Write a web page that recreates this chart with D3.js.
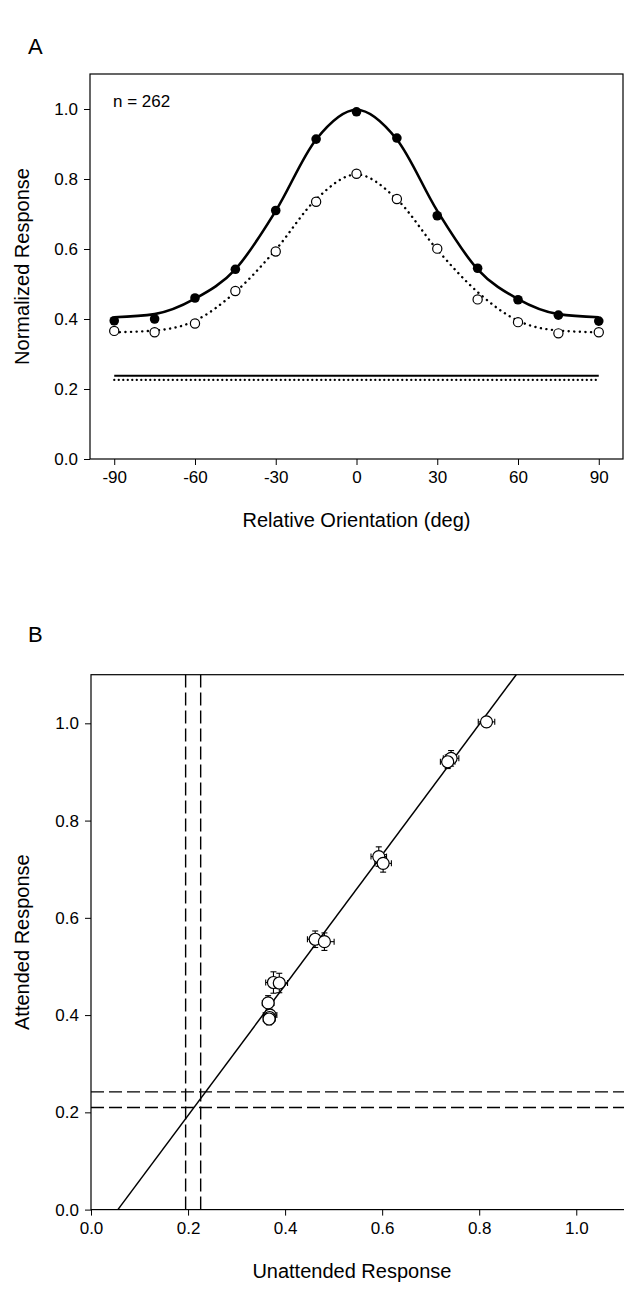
<!DOCTYPE html>
<html>
<head>
<meta charset="utf-8">
<script src="https://cdn.jsdelivr.net/npm/d3@7"></script>
<style>
  body { margin: 0; background: #fff; }
  svg { display: block; font-family: "Liberation Sans", Arial, sans-serif; }
</style>
</head>
<body>
<svg id="chart" width="624" height="1289"></svg>
<script>
// Panel A: tuning curves
const orientations = [-90, -75, -60, -45, -30, -15, 0, 15, 30, 45, 60, 75, 90];
const attended = [0.395, 0.400, 0.460, 0.542, 0.710, 0.914, 0.992, 0.917, 0.695, 0.545, 0.455, 0.411, 0.394];
const unattended = [0.366, 0.362, 0.387, 0.480, 0.593, 0.735, 0.815, 0.743, 0.601, 0.456, 0.391, 0.359, 0.362];
// fitted curves at the same orientations
const attendedFit = [0.405, 0.414, 0.458, 0.542, 0.709, 0.913, 0.998, 0.913, 0.709, 0.542, 0.457, 0.414, 0.405];
const unattendedFit = [0.362, 0.367, 0.395, 0.477, 0.598, 0.742, 0.813, 0.742, 0.598, 0.477, 0.395, 0.367, 0.362];
const baselines = [0.238, 0.226]; // attended (solid), unattended (dotted)
const xTicksA = [-90, -60, -30, 0, 30, 60, 90];
const yTicksA = [0, 0.2, 0.4, 0.6, 0.8, 1.0];

// Panel B: attended vs unattended
const unattendedB = [0.815, 0.742, 0.735, 0.593, 0.602, 0.462, 0.481, 0.376, 0.388, 0.365, 0.369, 0.368, 0.367];
const attendedB = [1.003, 0.928, 0.921, 0.726, 0.712, 0.556, 0.551, 0.467, 0.466, 0.425, 0.400, 0.395, 0.392];
const errUnattendedB = [0.017, 0.016, 0.015, 0.016, 0.017, 0.016, 0.020, 0.016, 0.017, 0.012, 0.014, 0.012, 0.012];
const errAttendedB = [0.010, 0.016, 0.014, 0.020, 0.018, 0.017, 0.018, 0.022, 0.020, 0.015, 0.012, 0.012, 0.012];
const fitSlope = 1.34;
const fitXIntercept = 0.0554;
const dashedX = [0.195, 0.226];
const dashedY = [0.210, 0.242];
const ticksB = [0, 0.2, 0.4, 0.6, 0.8, 1.0];

const svg = d3.select("#chart");
const fmt = d3.format(".1f");

function styleAxis(g) {
  g.select(".domain").remove();
  g.selectAll(".tick line").attr("stroke", "#000").attr("stroke-width", 1);
  g.selectAll(".tick text").attr("font-size", 17).attr("fill", "#000").attr("font-family", "Liberation Sans, Arial, sans-serif");
}

// ---------- Panel A ----------
const xA = d3.scaleLinear().domain([-99, 99]).range([90, 623]);
const yA = d3.scaleLinear().domain([0, 1.1]).range([459, 74]);

svg.append("text").text("A").attr("x", 28).attr("y", 54).attr("font-size", 22);

svg.append("rect")
  .attr("x", xA(-99)).attr("y", yA(1.1))
  .attr("width", xA(99) - xA(-99)).attr("height", yA(0) - yA(1.1))
  .attr("fill", "none").attr("stroke", "#000").attr("stroke-width", 1.2);

svg.append("g")
  .attr("transform", `translate(0, ${yA(0)})`)
  .call(d3.axisBottom(xA).tickValues(xTicksA).tickFormat((d) => String(d)).tickSize(6).tickPadding(6))
  .call(styleAxis);

svg.append("g")
  .attr("transform", `translate(${xA(-99)}, 0)`)
  .call(d3.axisLeft(yA).tickValues(yTicksA).tickFormat(fmt).tickSize(6).tickPadding(6))
  .call(styleAxis);

svg.append("text").text("n = 262").attr("x", 113).attr("y", 107).attr("font-size", 17);

svg.append("text")
  .text("Relative Orientation (deg)")
  .attr("x", xA(0)).attr("y", 527)
  .attr("text-anchor", "middle").attr("font-size", 20);

svg.append("text")
  .text("Normalized Response")
  .attr("transform", `translate(29, ${(yA(0) + yA(1.1)) / 2}) rotate(-90)`)
  .attr("text-anchor", "middle").attr("font-size", 20);

// baselines
svg.append("line")
  .attr("x1", xA(-90)).attr("x2", xA(90))
  .attr("y1", yA(baselines[0])).attr("y2", yA(baselines[0]))
  .attr("stroke", "#000").attr("stroke-width", 2);
svg.append("line")
  .attr("x1", xA(-90)).attr("x2", xA(90))
  .attr("y1", yA(baselines[1])).attr("y2", yA(baselines[1]))
  .attr("stroke", "#000").attr("stroke-width", 2.2)
  .attr("stroke-dasharray", "0.1 4.4").attr("stroke-linecap", "round");

const lineA = d3.line()
  .x((d, i) => xA(orientations[i]))
  .y((d) => yA(d))
  .curve(d3.curveMonotoneX);

svg.append("path")
  .attr("d", lineA(unattendedFit))
  .attr("fill", "none").attr("stroke", "#000").attr("stroke-width", 2.4)
  .attr("stroke-dasharray", "0.1 5.5").attr("stroke-linecap", "round");

svg.append("path")
  .attr("d", lineA(attendedFit))
  .attr("fill", "none").attr("stroke", "#000").attr("stroke-width", 2.6)
  .attr("stroke-linejoin", "round");

svg.append("g").selectAll("circle")
  .data(unattended)
  .join("circle")
  .attr("cx", (d, i) => xA(orientations[i]))
  .attr("cy", (d) => yA(d))
  .attr("r", 4.6)
  .attr("fill", "#fff").attr("stroke", "#000").attr("stroke-width", 1.2);

svg.append("g").selectAll("circle")
  .data(attended)
  .join("circle")
  .attr("cx", (d, i) => xA(orientations[i]))
  .attr("cy", (d) => yA(d))
  .attr("r", 4.8)
  .attr("fill", "#000");

// ---------- Panel B ----------
const xB = d3.scaleLinear().domain([0, 1.1]).range([91, 624.8]);
const yB = d3.scaleLinear().domain([0, 1.1]).range([1209.6, 674.7]);

svg.append("text").text("B").attr("x", 28).attr("y", 642).attr("font-size", 22);

svg.append("rect")
  .attr("x", xB(0)).attr("y", yB(1.1))
  .attr("width", xB(1.1) - xB(0)).attr("height", yB(0) - yB(1.1))
  .attr("fill", "none").attr("stroke", "#000").attr("stroke-width", 1.2);

svg.append("g")
  .attr("transform", `translate(0, ${yB(0)})`)
  .call(d3.axisBottom(xB).tickValues(ticksB).tickFormat(fmt).tickSize(6).tickPadding(6))
  .call(styleAxis);

svg.append("g")
  .attr("transform", `translate(${xB(0)}, 0)`)
  .call(d3.axisLeft(yB).tickValues(ticksB).tickFormat(fmt).tickSize(6).tickPadding(6))
  .call(styleAxis);

svg.append("text")
  .text("Unattended Response")
  .attr("x", xB(0.55) - 6).attr("y", 1278)
  .attr("text-anchor", "middle").attr("font-size", 20);

svg.append("text")
  .text("Attended Response")
  .attr("transform", `translate(29, ${(yB(0) + yB(1.1)) / 2}) rotate(-90)`)
  .attr("text-anchor", "middle").attr("font-size", 20);

// dashed baselines
svg.append("g").selectAll("line")
  .data(dashedX)
  .join("line")
  .attr("x1", (d) => xB(d)).attr("x2", (d) => xB(d))
  .attr("y1", yB(0)).attr("y2", yB(1.1))
  .attr("stroke", "#000").attr("stroke-width", 1.4).attr("stroke-dasharray", "13 5");

svg.append("g").selectAll("line")
  .data(dashedY)
  .join("line")
  .attr("x1", xB(0)).attr("x2", xB(1.1))
  .attr("y1", (d) => yB(d)).attr("y2", (d) => yB(d))
  .attr("stroke", "#000").attr("stroke-width", 1.4).attr("stroke-dasharray", "13 5");

// regression line, clipped to the y range
const yEnds = [0, 1.1];
svg.append("path")
  .attr("d", d3.line()
    .x((d) => xB(fitXIntercept + d / fitSlope))
    .y((d) => yB(d))(yEnds))
  .attr("fill", "none").attr("stroke", "#000").attr("stroke-width", 1.5);

// error bars + points
const pts = unattendedB.map((x, i) => ({ x, y: attendedB[i], ex: errUnattendedB[i], ey: errAttendedB[i] }));
const cap = 3;
const eb = svg.append("g").attr("stroke", "#000").attr("stroke-width", 1.1);
pts.forEach((p) => {
  eb.append("line").attr("x1", xB(p.x - p.ex)).attr("x2", xB(p.x + p.ex)).attr("y1", yB(p.y)).attr("y2", yB(p.y));
  eb.append("line").attr("x1", xB(p.x - p.ex)).attr("x2", xB(p.x - p.ex)).attr("y1", yB(p.y) - cap).attr("y2", yB(p.y) + cap);
  eb.append("line").attr("x1", xB(p.x + p.ex)).attr("x2", xB(p.x + p.ex)).attr("y1", yB(p.y) - cap).attr("y2", yB(p.y) + cap);
  eb.append("line").attr("x1", xB(p.x)).attr("x2", xB(p.x)).attr("y1", yB(p.y - p.ey)).attr("y2", yB(p.y + p.ey));
  eb.append("line").attr("x1", xB(p.x) - cap).attr("x2", xB(p.x) + cap).attr("y1", yB(p.y - p.ey)).attr("y2", yB(p.y - p.ey));
  eb.append("line").attr("x1", xB(p.x) - cap).attr("x2", xB(p.x) + cap).attr("y1", yB(p.y + p.ey)).attr("y2", yB(p.y + p.ey));
});

svg.append("g").selectAll("circle")
  .data(pts)
  .join("circle")
  .attr("cx", (d) => xB(d.x))
  .attr("cy", (d) => yB(d.y))
  .attr("r", 6)
  .attr("fill", "#fff").attr("stroke", "#000").attr("stroke-width", 1.2);
</script>
</body>
</html>
